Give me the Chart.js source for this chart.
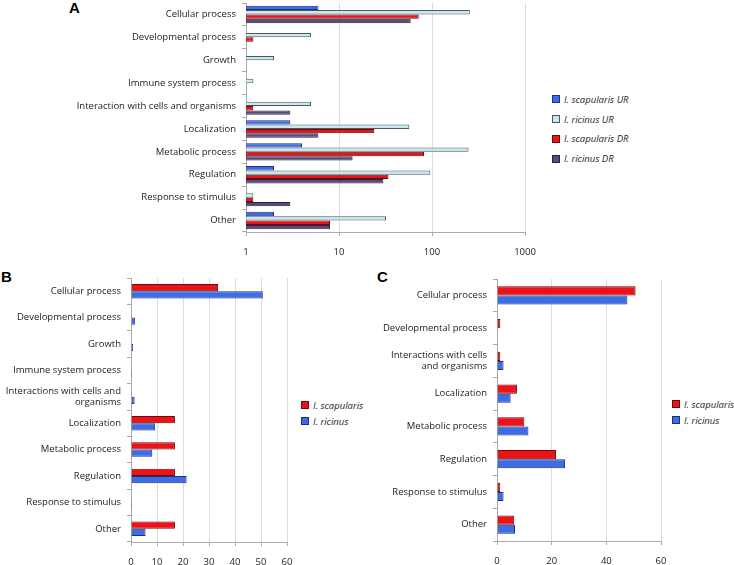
<!DOCTYPE html>
<html>
<head>
<meta charset="utf-8">
<script src="https://cdn.jsdelivr.net/npm/chart.js@4.4.1/dist/chart.umd.min.js"></script>
<style>
  html, body { margin:0; padding:0; background:#fff; }
  body { width:734px; height:565px; position:relative; overflow:hidden; font-family:'Open Sans', sans-serif; }
  .box { position:absolute; }
  .letter { position:absolute; font-family:'Liberation Sans', Arial, sans-serif; font-weight:bold; font-size:15px; color:#000; }
  .legend { position:absolute; font-family:'Open Sans', sans-serif; font-style:italic; font-size:9.5px; color:#222; }
  .legend .item { position:absolute; left:0; white-space:nowrap; line-height:12px; height:12px; }
  .legend .sw { display:inline-block; width:6px; height:6px; border:1px solid #333; vertical-align:middle; margin-right:4px; position:relative; top:-1px; }
</style>
</head>
<body>
<div class="letter" style="left:69px;top:-1px;">A</div>
<div class="letter" style="left:1px;top:268px;">B</div>
<div class="letter" style="left:377px;top:268px;">C</div>

<div class="box" style="left:0;top:0;width:540px;height:262px;"><canvas id="chartA"></canvas></div>
<div class="box" style="left:0;top:262px;width:300px;height:303px;"><canvas id="chartB"></canvas></div>
<div class="box" style="left:370px;top:262px;width:300px;height:303px;"><canvas id="chartC"></canvas></div>

<div class="legend" id="legendA" style="left:552px;top:94px;"></div>
<div class="legend" id="legendB" style="left:301px;top:400px;"></div>
<div class="legend" id="legendC" style="left:672px;top:399px;"></div>

<script>
// ---------- DATA ----------
// Panel A (log scale)
const categoriesA = ["Cellular process","Developmental process","Growth","Immune system process","Interaction with cells and organisms","Localization","Metabolic process","Regulation","Response to stimulus","Other"];
const seriesNamesA = ["I. scapularis UR","I. ricinus UR","I. scapularis DR","I. ricinus DR"];
const scapularisUR = [6, null, null, null, null, 3, 4, 2, null, 2];
const ricinusUR    = [255, 5, 2, 1.2, 5, 57, 247, 96, 1.2, 32];
const scapularisDR = [72, 1.2, null, null, 1.2, 24, 82, 34, 1.2, 8];
const ricinusDR    = [59, null, null, null, 3, 6, 14, 30, 3, 8];
const ticksA = [1, 10, 100, 1000];

// Panel B
const categoriesB = ["Cellular process","Developmental process","Growth","Immune system process",["Interactions with cells and","organisms"],"Localization","Metabolic process","Regulation","Response to stimulus","Other"];
const seriesNamesBC = ["I. scapularis","I. ricinus"];
const scapularisB = [33.5, 0, 0, 0, 0, 16.9, 16.9, 16.9, 0, 16.9];
const ricinusB    = [50.7, 1.5, 0.8, 0.4, 1.4, 9.3, 8.2, 21.4, 0.4, 5.6];

// Panel C
const categoriesC = ["Cellular process","Developmental process",["Interactions with cells","and organisms"],"Localization","Metabolic process","Regulation","Response to stimulus","Other"];
const scapularisC = [50.7, 1.2, 1.2, 7.3, 10.0, 21.6, 1.2, 6.3];
const ricinusC    = [47.7, 0, 2.4, 5.0, 11.5, 24.9, 2.4, 6.6];

// ---------- STYLE ----------
const COL = {
  blue:   {bg:'#3d6de6', bd:'#1c2f7a'},
  light:  {bg:'#c8e8ee', bd:'#4a5a60'},
  red:    {bg:'#ec1218', bd:'#6a0a0a'},
  purple: {bg:'#5a4a7a', bd:'#2a2040'}
};

Chart.defaults.font.family = "'Open Sans', sans-serif";
Chart.defaults.font.size = 9.5;
Chart.defaults.color = '#222';
Chart.defaults.animation = false;

function ds(label, data, c, pct) {
  return { label, data, backgroundColor:c.bg, borderColor:c.bd, borderWidth:1,
           categoryPercentage:pct, barPercentage:1.0 };
}

function makeChart(id, labels, datasets, cfg) {
  return new Chart(document.getElementById(id), {
    type:'bar',
    data:{ labels, datasets },
    options:{
      indexAxis:'y',
      responsive:true,
      maintainAspectRatio:false,
      layout:{ padding:{ top:cfg.padTop, right:cfg.padRight, left:0, bottom:0 } },
      plugins:{ legend:{display:false}, tooltip:{enabled:false} },
      scales:{
        y:{
          type:'category',
          grid:{ offset:true, drawOnChartArea:false, tickLength:4, color:'#aaa', tickColor:'#aaa' },
          border:{ color:'#aaa' },
          ticks:{ padding:6, font:{size:9.5}, color:'#222', autoSkip:false },
          afterFit:(s)=>{ s.width = cfg.yWidth; s.paddingTop = 0; s.paddingBottom = 0; }
        },
        x: cfg.x
      }
    }
  });
}

function fitX(h) {
  return (s)=>{ s.height = h; s.paddingLeft = 0; s.paddingRight = 0; };
}

// Panel A
makeChart('chartA', categoriesA, [
  ds(seriesNamesA[0], scapularisUR, COL.blue, 0.76),
  ds(seriesNamesA[1], ricinusUR, COL.light, 0.76),
  ds(seriesNamesA[2], scapularisDR, COL.red, 0.76),
  ds(seriesNamesA[3], ricinusDR, COL.purple, 0.76)
], {
  padTop:3, padRight:15, yWidth:246,
  x:{
    type:'logarithmic', min:ticksA[0], max:ticksA[ticksA.length-1],
    afterBuildTicks:(s)=>{ s.ticks = ticksA.map(v=>({value:v, major:true})); },
    grid:{ color:'#dcdcdc', tickLength:4, tickColor:'#aaa' },
    border:{ color:'#aaa' },
    ticks:{ padding:11, font:{size:9.5}, color:'#222', callback:(v)=>String(v), autoSkip:false, maxRotation:0 },
    afterFit:fitX(30)
  }
});

// Panel B
makeChart('chartB', categoriesB, [
  ds(seriesNamesBC[0], scapularisB, COL.red, 0.55),
  ds(seriesNamesBC[1], ricinusB, COL.blue, 0.55)
], {
  padTop:16, padRight:13, yWidth:131,
  x:{
    type:'linear', min:0, max:60,
    grid:{ color:'#dcdcdc', tickLength:4, tickColor:'#aaa' },
    border:{ color:'#aaa' },
    ticks:{ stepSize:10, padding:11, font:{size:9.5}, color:'#222', maxRotation:0 },
    afterFit:fitX(23)
  }
});

// Panel C
makeChart('chartC', categoriesC, [
  ds(seriesNamesBC[0], scapularisC, COL.red, 0.55),
  ds(seriesNamesBC[1], ricinusC, COL.blue, 0.55)
], {
  padTop:17, padRight:9, yWidth:127,
  x:{
    type:'linear', min:0, max:60,
    grid:{ color:'#dcdcdc', tickLength:4, tickColor:'#aaa' },
    border:{ color:'#aaa' },
    ticks:{ stepSize:20, padding:11, font:{size:9.5}, color:'#222', maxRotation:0 },
    afterFit:fitX(24)
  }
});

// Legends (HTML text)
function legend(id, names, cols, gap) {
  const el = document.getElementById(id);
  names.forEach((n,i)=>{
    const it = document.createElement('div');
    it.className = 'item';
    it.style.top = (i*gap) + 'px';
    const sw = document.createElement('span');
    sw.className = 'sw';
    sw.style.background = cols[i].bg;
    sw.style.borderColor = cols[i].bd;
    it.appendChild(sw);
    it.appendChild(document.createTextNode(n));
    el.appendChild(it);
  });
}
legend('legendA', seriesNamesA, [COL.blue, COL.light, COL.red, COL.purple], 19.7);
legend('legendB', seriesNamesBC, [COL.red, COL.blue], 15.5);
legend('legendC', seriesNamesBC, [COL.red, COL.blue], 15.5);
</script>
</body>
</html>
